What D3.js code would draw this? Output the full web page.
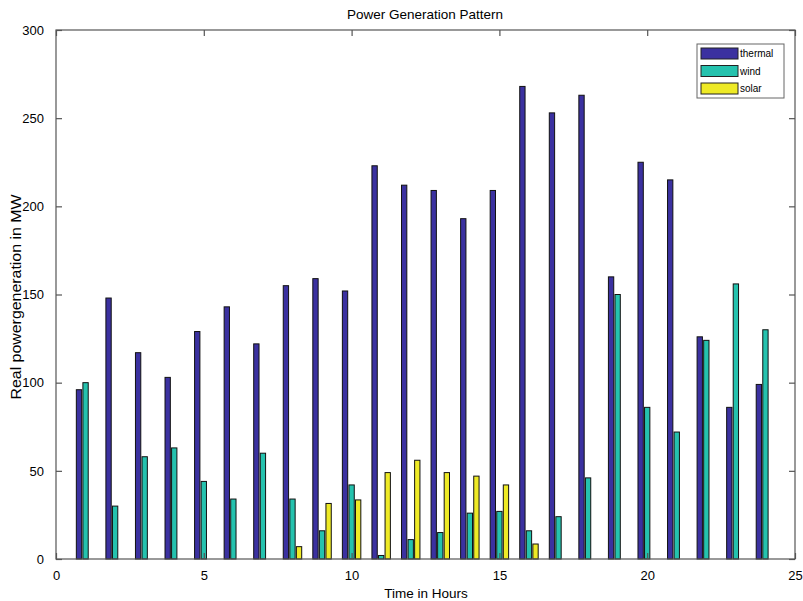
<!DOCTYPE html>
<html><head><meta charset="utf-8">
<script src="https://cdn.jsdelivr.net/npm/d3@7"></script>
<style>body{margin:0;background:#fff}svg{display:block}text{font-family:"Liberation Sans",Arial,sans-serif}</style>
</head><body>
<script>
const hours = d3.range(1, 25);
const thermal = [96,148,117,103,129,143,122,155,159,152,223,212,209,193,209,268,253,263,160,225,215,126,86,99];
const wind = [100,30,58,63,44,34,60,34,16,42,2,11,15,26,27,16,24,46,150,86,72,124,156,130];
const solar = [0,0,0,0,0,0,0,7,31.5,33.5,49,56,49,47,42,8.5,0,0,0,0,0,0,0,0];
const seriesNames = ["thermal","wind","solar"];
const seriesColors = ["#3b31a0","#25c2ae","#eeea26"];
const xTicks = [0,5,10,15,20,25];
const yTicks = [0,50,100,150,200,250,300];

const W = 803, H = 601;
const m = {l:56, r:795, t:30, b:559};
const svg = d3.select("body").append("svg").attr("width", W).attr("height", H);
const x = d3.scaleLinear().domain([0,25]).range([m.l, m.r]);
const y = d3.scaleLinear().domain([0,300]).range([m.b, m.t]);

const series = [thermal, wind, solar];
const offset = 0.222, bw = 0.18;
const g = svg.append("g");
series.forEach((vals, si) => {
  g.selectAll(null).data(hours).enter().append("rect")
    .attr("x", (h) => x(h + (si-1)*offset - bw/2))
    .attr("width", x(bw) - x(0))
    .attr("y", (h,i) => y(vals[i]))
    .attr("height", (h,i) => y(0) - y(vals[i]))
    .attr("fill", seriesColors[si])
    .attr("stroke", "#111").attr("stroke-width", 1);
});

// frame
const axisColor = "#555";
svg.append("rect").attr("x", m.l).attr("y", m.t).attr("width", m.r-m.l).attr("height", m.b-m.t)
  .attr("fill","none").attr("stroke", axisColor).attr("stroke-width", 1.2);

const tl = 6;
const xa = svg.append("g").attr("transform", `translate(0,${m.b})`)
  .call(d3.axisBottom(x).tickValues(xTicks).tickSize(-tl).tickPadding(12).tickFormat(d3.format("d")));
const xt = svg.append("g").attr("transform", `translate(0,${m.t})`)
  .call(d3.axisTop(x).tickValues(xTicks).tickSize(-tl).tickFormat(""));
const ya = svg.append("g").attr("transform", `translate(${m.l},0)`)
  .call(d3.axisLeft(y).tickValues(yTicks).tickSize(-tl).tickPadding(12).tickFormat(d3.format("d")));
const yr = svg.append("g").attr("transform", `translate(${m.r},0)`)
  .call(d3.axisRight(y).tickValues(yTicks).tickSize(-tl).tickFormat(""));
[xa,xt,ya,yr].forEach(a => {
  a.select(".domain").remove();
  a.selectAll(".tick line").attr("stroke", axisColor).attr("stroke-width", 1.2);
  a.selectAll("text").attr("fill", "#000").attr("font-size", 13)
   .attr("font-family", '"Liberation Sans",Arial,sans-serif');
});
xa.selectAll("text").attr("dy", "0.71em");

svg.append("text").attr("x", 425).attr("y", 19).attr("text-anchor","middle")
  .attr("font-size", 13.5).text("Power Generation Pattern");
svg.append("text").attr("x", 426).attr("y", 598).attr("text-anchor","middle")
  .attr("font-size", 13.5).text("Time in Hours");
svg.append("text").attr("transform", "translate(21,297) rotate(-90)").attr("text-anchor","middle")
  .attr("font-size", 14).attr("textLength", 205).attr("lengthAdjust", "spacingAndGlyphs")
  .text("Real powergeneration in MW");

// legend
const lg = svg.append("g");
lg.append("rect").attr("x", 697).attr("y", 44).attr("width", 87).attr("height", 54)
  .attr("fill","#fff").attr("stroke","#666").attr("stroke-width",1);
seriesNames.forEach((n, i) => {
  lg.append("rect").attr("x", 701).attr("y", 48 + i*17.5).attr("width", 37).attr("height", 11)
    .attr("fill", seriesColors[i]).attr("stroke", "#222");
  lg.append("text").attr("x", 740).attr("y", 57 + i*17.5).attr("font-size", 10).text(n);
});
</script>
</body></html>
